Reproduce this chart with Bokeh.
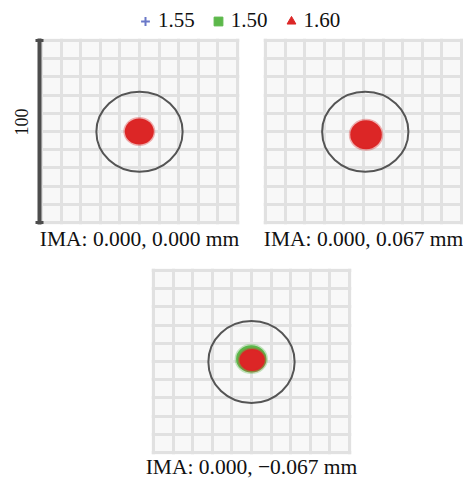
from bokeh.plotting import figure
from bokeh.models import (Range1d, Legend, LegendItem, Title, FixedTicker,
                          ColumnDataSource, Grid, LinearAxis)
from bokeh.layouts import column, row
from bokeh.embed import file_html
from bokeh.resources import INLINE

# ---- data -------------------------------------------------------------
wavelengths = ["1.55", "1.50", "1.60"]
wl_colors = ["#6a78c8", "#5cb84a", "#dc2626"]
wl_markers = ["cross", "square", "triangle"]

field_labels = ["IMA: 0.000, 0.000 mm", "IMA: 0.000, 0.067 mm",
                "IMA: 0.000, \u22120.067 mm"]
scale_label = "100"
grid_ticks = [0, 1, 2, 3, 4, 5, 6, 7, 8, 9, 10]

# Airy circle per field (grid units)
airy_x = [5.00, 5.09, 5.00]
airy_y = [4.99, 4.99, 4.97]
airy_w = [4.40, 4.40, 4.40]
airy_h = [4.39, 4.39, 4.50]

# spot per wavelength, per field: centre x, centre y, width, height
spot_155_x = [4.99, 5.13, 5.03]
spot_155_y = [5.00, 4.82, 5.10]
spot_155_w = [1.10, 1.25, 1.00]
spot_155_h = [1.05, 1.20, 0.95]

spot_150_x = [4.99, 5.13, 4.99]
spot_150_y = [5.00, 4.82, 5.14]
spot_150_w = [1.20, 1.35, 1.55]
spot_150_h = [1.15, 1.30, 1.50]

spot_160_x = [4.99, 5.13, 5.03]
spot_160_y = [5.00, 4.82, 5.08]
spot_160_w = [1.48, 1.61, 1.30]
spot_160_h = [1.43, 1.59, 1.20]

spots = [(spot_155_x, spot_155_y, spot_155_w, spot_155_h),
         (spot_150_x, spot_150_y, spot_150_w, spot_150_h),
         (spot_160_x, spot_160_y, spot_160_w, spot_160_h)]

SERIF = "Liberation Serif"


def make_panel(i, with_bar, b_left, b_right, b_top, b_bottom, standoff):
    p = figure(frame_width=200, frame_height=186,
               x_range=Range1d(-0.1, 10.1), y_range=Range1d(-0.1, 10.1),
               output_backend="svg", toolbar_location=None,
               x_axis_location=None, y_axis_location=None,
               min_border_left=b_left, min_border_right=b_right,
               min_border_top=b_top, min_border_bottom=b_bottom,
               background_fill_color="#f8f8f8", border_fill_color="white",
               outline_line_color=None)
    p.xgrid.visible = False
    p.ygrid.visible = False
    for dim in (0, 1):
        g = Grid(dimension=dim, ticker=FixedTicker(ticks=grid_ticks),
                 grid_line_color="#e1e1e1", grid_line_width=3)
        p.add_layout(g, "center")

    # spots: blue, green, red (red on top)
    for (sx, sy, sw, sh), col in zip(spots, wl_colors):
        src = ColumnDataSource(dict(x=[sx[i]], y=[sy[i]], w=[sw[i]], h=[sh[i]]))
        p.ellipse(x="x", y="y", width="w", height="h", source=src,
                  fill_color=col, line_color=col, line_width=3, line_alpha=0.35)

    src_c = ColumnDataSource(dict(x=[airy_x[i]], y=[airy_y[i]],
                                  w=[airy_w[i]], h=[airy_h[i]]))
    p.ellipse(x="x", y="y", width="w", height="h", source=src_c,
              fill_color=None, line_color="#555555", line_width=2)

    if with_bar:
        ax = LinearAxis(ticker=FixedTicker(ticks=[],
                                           minor_ticks=[grid_ticks[0], grid_ticks[-1]]),
                        axis_line_color="#4d4d4d", axis_line_width=4,
                        major_tick_line_color=None,
                        minor_tick_line_color="#4d4d4d", minor_tick_line_width=3,
                        minor_tick_in=4, minor_tick_out=4,
                        major_label_standoff=0)
        p.add_layout(ax, "left")
        p.add_layout(Title(text=scale_label, align="right", offset=70,
                           text_font=SERIF, text_font_size="18px",
                           text_font_style="normal", text_color="#111111",
                           standoff=12, vertical_align="top"), "left")

    p.add_layout(Title(text=field_labels[i], align="center", text_font=SERIF,
                       text_font_size="21.5px", text_font_style="normal",
                       text_color="#111111", standoff=standoff,
                       vertical_align="top"), "below")
    return p


# legend strip
lf = figure(frame_width=463, frame_height=38,
            x_range=Range1d(0, 1), y_range=Range1d(0, 1),
            output_backend="svg", toolbar_location=None,
            x_axis_location=None, y_axis_location=None,
            min_border_left=0, min_border_right=0,
            min_border_top=0, min_border_bottom=0,
            outline_line_color=None)
lf.xgrid.visible = False
lf.ygrid.visible = False
items = []
for lbl, col, mk in zip(wavelengths, wl_colors, wl_markers):
    src = ColumnDataSource(dict(x=[float("nan")], y=[float("nan")]))
    r = lf.scatter(x="x", y="y", source=src, marker=mk, size=9, fill_color=col,
                   line_color=col, line_width=2 if mk == "cross" else 1)
    items.append(LegendItem(label=lbl, renderers=[r]))
leg = Legend(items=items, location=(134, 5), orientation="horizontal",
             glyph_width=22, glyph_height=22, label_standoff=2, spacing=12,
             padding=0, margin=0, border_line_color=None,
             background_fill_alpha=0,
             label_text_font=SERIF, label_text_font_size="21px",
             label_text_color="#111111")
lf.add_layout(leg, "center")

p1 = make_panel(0, True, 39, 12, 0, 30, 4)
p2 = make_panel(1, False, 12, 0, 0, 30, 4)
p3 = make_panel(2, False, 151, 40, 14, 16, 0)

layout = column(lf, row(p1, p2), p3)

open("out.html", "w").write(file_html(layout, INLINE))
